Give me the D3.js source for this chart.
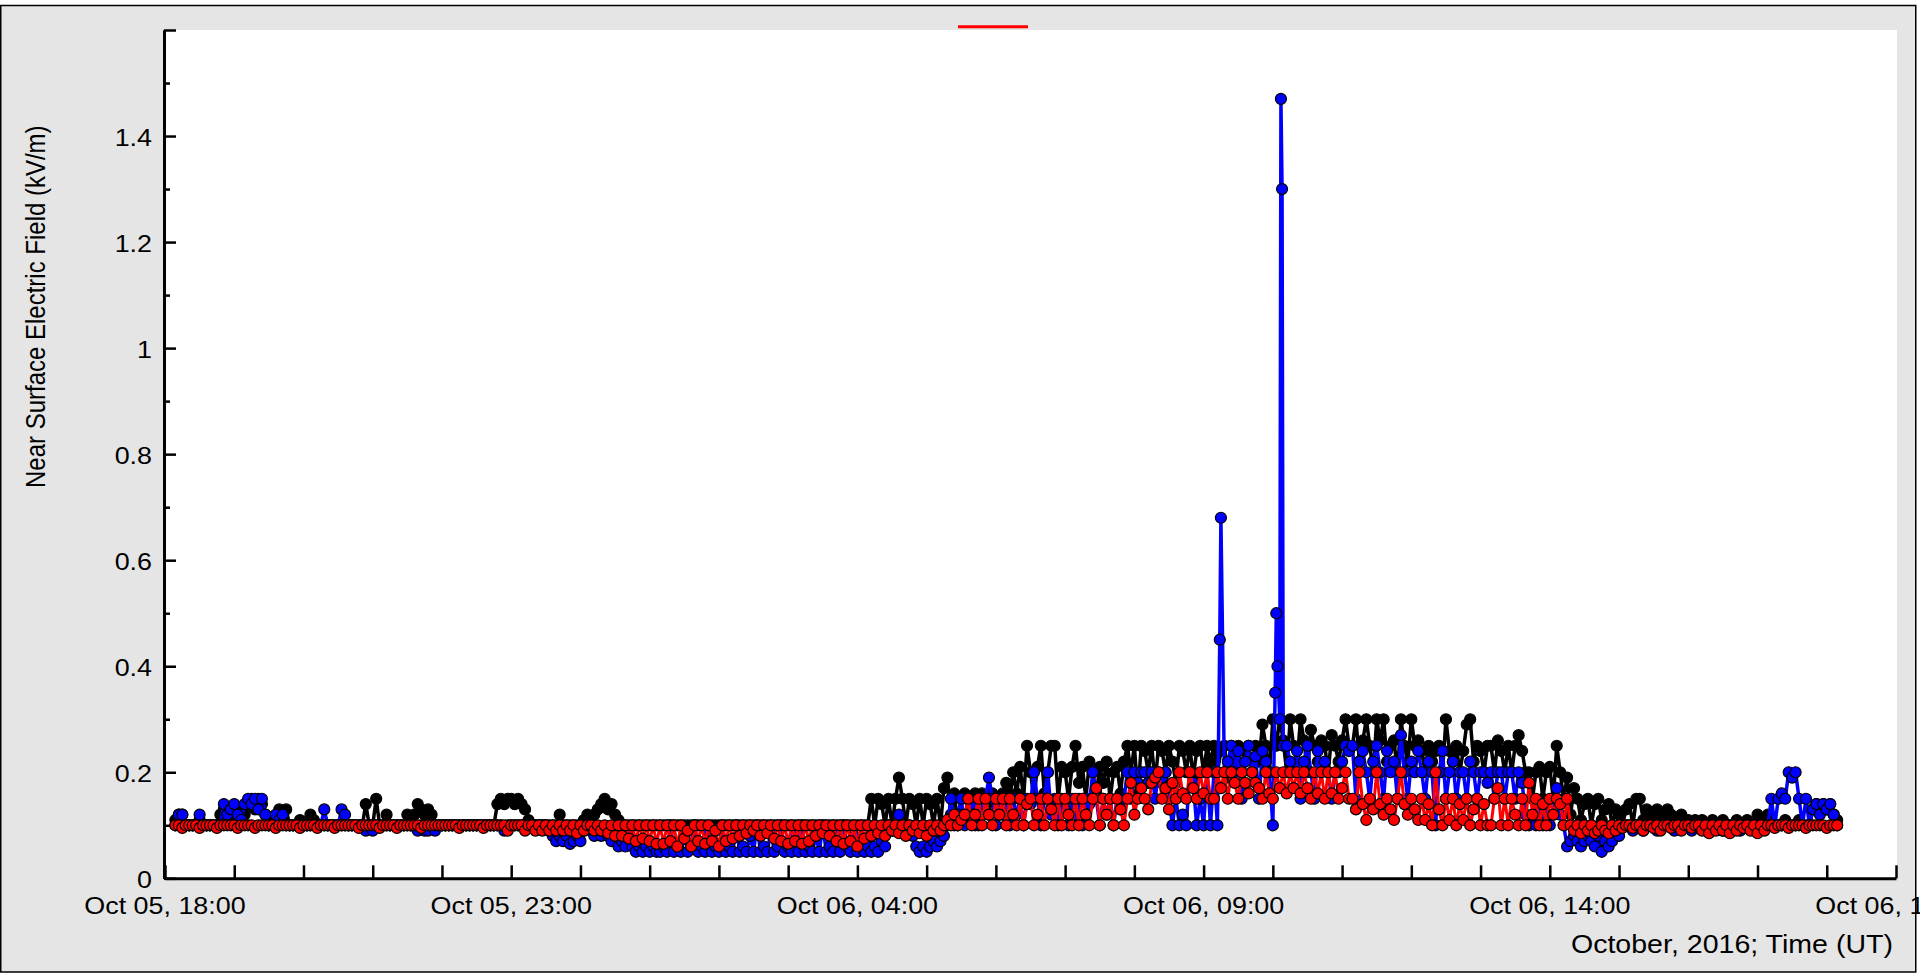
<!DOCTYPE html>
<html>
<head>
<meta charset="utf-8">
<script src="https://cdn.jsdelivr.net/npm/d3@7"></script>
<style>
  html, body { margin: 0; padding: 0; background: #fff; }
  svg { display: block; font-family: "Liberation Sans", Arial, sans-serif; }
</style>
</head>
<body>
<div id="chart"></div>
<script>
// samples every 3 minutes from 18:09 UT Oct 05 (one row = one hour, HH:09 .. HH+1:06)
const startTime = "2016-10-05T18:09:00Z";
const stepMinutes = 3;

const blackField = [
	.11,.12,.12,.10,.10,.10,.10,.11,.10,.10,.10,.10,.10,.12,.13,.12,.13,.12,.13,.11, // 18
	.12,.14,.15,.13,.15,.14,.12,.10,.10,.11,.13,.12,.13,.10,.10,.10,.11,.10,.10,.12, // 19
	.11,.10,.10,.10,.10,.10,.10,.10,.10,.10,.10,.10,.10,.10,.10,.14,.10,.10,.15,.10, // 20
	.10,.12,.10,.10,.10,.10,.10,.12,.10,.12,.14,.13,.12,.13,.12,.10,.10,.10,.10,.10, // 21
	.10,.10,.10,.10,.10,.10,.10,.10,.10,.10,.10,.10,.10,.14,.15,.14,.15,.15,.14,.15, // 22
	.14,.13,.11,.10,.10,.10,.10,.10,.10,.10,.10,.12,.10,.10,.10,.10,.10,.10,.11,.12, // 23
	.11,.12,.13,.14,.15,.13,.14,.12,.11,.10,.10,.10,.10,.10,.10,.10,.10,.10,.10,.10, // 00
	.10,.10,.10,.10,.10,.10,.10,.10,.10,.10,.10,.10,.10,.10,.10,.10,.10,.10,.10,.10, // 01
	.10,.10,.10,.10,.10,.10,.10,.10,.10,.10,.10,.10,.10,.10,.10,.10,.10,.10,.10,.10, // 02
	.10,.10,.10,.10,.10,.10,.10,.10,.10,.10,.10,.10,.10,.10,.10,.10,.10,.10,.10,.10, // 03
	.10,.15,.10,.15,.14,.10,.15,.10,.15,.19,.15,.10,.15,.14,.10,.15,.10,.15,.14,.10, // 04
	.15,.10,.17,.19,.12,.16,.10,.15,.16,.12,.15,.16,.10,.16,.15,.12,.16,.15,.12,.16, // 05
	.18,.15,.20,.16,.21,.15,.25,.20,.15,.21,.25,.16,.20,.25,.25,.15,.21,.20,.15,.21, // 06
	.25,.18,.21,.15,.22,.20,.16,.21,.18,.22,.15,.20,.21,.16,.22,.25,.20,.25,.16,.25, // 07
	.24,.20,.25,.18,.25,.24,.20,.25,.22,.18,.25,.24,.20,.25,.19,.24,.25,.20,.25,.22, // 08
	.25,.20,.24,.25,.19,.25,.22,.25,.20,.24,.25,.20,.25,.22,.29,.25,.20,.30,.25,.30, // 09
	.26,.20,.30,.25,.22,.30,.26,.20,.28,.25,.22,.26,.25,.20,.27,.25,.22,.26,.30,.25, // 10
	.25,.30,.22,.26,.30,.25,.20,.30,.26,.30,.22,.25,.26,.20,.30,.25,.22,.30,.25,.26, // 11
	.24,.20,.25,.22,.24,.25,.20,.30,.24,.22,.25,.20,.24,.29,.30,.22,.25,.24,.20,.25, // 12
	.25,.20,.26,.24,.20,.25,.20,.25,.27,.24,.20,.20,.15,.20,.21,.15,.20,.21,.15,.25, // 13
	.20,.15,.19,.12,.17,.15,.11,.14,.15,.10,.14,.15,.11,.13,.14,.10,.13,.12,.10,.13, // 14
	.14,.10,.15,.15,.11,.13,.12,.10,.13,.12,.10,.13,.12,.10,.11,.12,.10,.11,.10,.11, // 15
	.10,.11,.10,.10,.11,.10,.10,.11,.10,.10,.10,.11,.10,.10,.11,.10,.10,.12,.11,.10, // 16
	.12,.11,.10,.10,.10,.11,.10,.10,.10,.11,.10,.10,.10,.13,.14,.13,.14,.13,.14,.12, // 17
	.11
];

const blueField = [
	.10,.12,.12,.10,.10,.10,.10,.12,.10,.10,.10,.10,.10,.10,.14,.12,.13,.14,.12,.11, // 18
	.14,.15,.14,.15,.13,.15,.12,.10,.10,.12,.11,.12,.10,.10,.10,.10,.10,.10,.10,.10, // 19
	.10,.10,.10,.13,.10,.10,.10,.10,.13,.12,.10,.10,.10,.10,.10,.09,.10,.09,.10,.10, // 20
	.10,.10,.10,.10,.10,.10,.10,.10,.10,.10,.09,.10,.09,.09,.10,.09,.10,.10,.10,.10, // 21
	.10,.10,.10,.10,.10,.10,.10,.10,.10,.10,.10,.10,.10,.10,.10,.09,.10,.10,.10,.10, // 22
	.10,.10,.10,.10,.10,.10,.10,.10,.09,.08,.07,.08,.07,.08,.065,.07,.08,.07,.09,.10, // 23
	.09,.08,.09,.08,.09,.08,.07,.08,.06,.07,.06,.08,.06,.05,.06,.05,.06,.05,.06,.05, // 00
	.05,.06,.05,.10,.05,.06,.05,.08,.05,.06,.10,.05,.06,.05,.09,.05,.06,.05,.10,.05, // 01
	.06,.05,.10,.05,.06,.05,.08,.05,.10,.05,.06,.05,.09,.05,.06,.10,.05,.06,.05,.08, // 02
	.05,.10,.05,.06,.05,.08,.05,.10,.05,.06,.05,.09,.05,.10,.06,.05,.08,.05,.06,.05, // 03
	.06,.05,.06,.05,.07,.06,.10,.09,.10,.12,.10,.09,.10,.08,.06,.05,.06,.05,.06,.07, // 04
	.06,.07,.08,.10,.15,.10,.12,.15,.10,.15,.14,.10,.15,.12,.15,.19,.15,.10,.15,.12, // 05
	.15,.10,.15,.12,.15,.10,.15,.14,.20,.15,.10,.15,.20,.12,.15,.10,.15,.13,.10,.15, // 06
	.12,.15,.10,.15,.14,.20,.15,.10,.15,.12,.15,.10,.15,.13,.15,.20,.15,.20,.18,.20, // 07
	.20,.18,.20,.15,.20,.19,.20,.15,.10,.15,.10,.12,.10,.20,.18,.10,.15,.10,.20,.10, // 08
	.20,.10,.68,.20,.22,.25,.20,.24,.15,.22,.25,.20,.23,.15,.24,.22,.20,.10,.50,.30, // 09
	.25,.25,.22,.20,.24,.15,.22,.25,.20,.15,.24,.20,.22,.20,.15,.20,.20,.22,.25,.24, // 10
	.25,.15,.22,.24,.20,.15,.22,.25,.20,.15,.24,.20,.22,.15,.27,.20,.15,.22,.20,.24, // 11
	.20,.15,.22,.20,.10,.20,.24,.15,.20,.22,.15,.20,.20,.15,.22,.20,.15,.20,.20,.18, // 12
	.20,.15,.20,.20,.15,.20,.20,.15,.20,.18,.12,.10,.12,.10,.13,.10,.12,.10,.12,.17, // 13
	.12,.10,.06,.07,.08,.07,.06,.07,.08,.07,.06,.08,.05,.07,.06,.07,.09,.08,.10,.10, // 14
	.10,.09,.10,.10,.09,.10,.10,.10,.09,.10,.10,.10,.10,.09,.10,.10,.10,.10,.09,.10, // 15
	.10,.10,.10,.09,.10,.10,.10,.09,.10,.10,.10,.10,.09,.10,.10,.10,.10,.10,.10,.10, // 16
	.10,.15,.10,.15,.16,.15,.20,.19,.20,.15,.10,.15,.10,.13,.14,.12,.14,.13,.14,.12, // 17
	.10
];

// extra blue samples inside the two bursts (09:15 and 10:05)
const blueBurst = [
	["2016-10-06T09:14:00Z", .45],
	["2016-10-06T10:02:00Z", .35],
	["2016-10-06T10:04:00Z", .40],
	["2016-10-06T10:07:00Z", 1.47],
	["2016-10-06T10:08:00Z", 1.30]
];

const redField = [
	.10,.10,.095,.10,.10,.10,.10,.095,.10,.10,.10,.10,.095,.10,.10,.10,.10,.10,.095,.10, // 18
	.10,.10,.10,.095,.10,.10,.10,.10,.10,.095,.10,.10,.10,.10,.10,.10,.095,.10,.10,.10, // 19
	.10,.095,.10,.10,.10,.10,.095,.10,.10,.10,.10,.10,.10,.095,.10,.10,.10,.10,.10,.095, // 20
	.10,.10,.10,.10,.095,.10,.10,.10,.10,.10,.10,.095,.10,.10,.10,.10,.10,.10,.10,.10, // 21
	.10,.10,.095,.10,.10,.10,.10,.10,.10,.095,.10,.10,.10,.10,.10,.10,.09,.10,.10,.10, // 22
	.10,.09,.10,.10,.09,.10,.09,.10,.09,.10,.09,.10,.09,.10,.09,.10,.085,.10,.09,.10, // 23
	.10,.09,.10,.09,.10,.085,.10,.08,.10,.08,.10,.075,.10,.07,.10,.075,.10,.07,.10,.065, // 00
	.10,.065,.10,.07,.10,.06,.10,.075,.09,.06,.10,.07,.10,.065,.10,.07,.09,.06,.10,.07, // 01
	.10,.075,.10,.08,.10,.085,.10,.09,.10,.08,.10,.085,.10,.075,.10,.07,.10,.065,.10,.07, // 02
	.10,.065,.10,.07,.10,.08,.10,.085,.10,.08,.10,.07,.10,.065,.10,.07,.10,.06,.10,.075, // 03
	.10,.08,.10,.085,.10,.08,.10,.09,.10,.085,.10,.08,.10,.09,.10,.085,.10,.08,.10,.09, // 04
	.10,.09,.10,.11,.10,.12,.10,.11,.12,.15,.10,.12,.15,.10,.15,.12,.10,.15,.12,.15, // 05
	.10,.15,.12,.10,.15,.10,.14,.15,.10,.12,.15,.10,.15,.13,.10,.15,.10,.15,.12,.10, // 06
	.15,.10,.15,.12,.10,.15,.17,.10,.15,.12,.15,.10,.15,.13,.10,.15,.18,.12,.15,.17, // 07
	.15,.13,.18,.19,.20,.15,.17,.13,.18,.15,.20,.16,.15,.20,.17,.15,.20,.16,.20,.15, // 08
	.15,.20,.17,.20,.15,.20,.18,.15,.20,.18,.16,.20,.18,.17,.15,.20,.16,.15,.20,.17, // 09
	.20,.16,.20,.17,.20,.16,.20,.17,.15,.20,.16,.20,.15,.20,.16,.20,.15,.17,.20,.15, // 10
	.15,.13,.20,.14,.11,.15,.13,.20,.14,.12,.15,.13,.11,.15,.20,.14,.12,.15,.13,.11, // 11
	.15,.11,.14,.10,.20,.13,.10,.15,.11,.15,.10,.14,.11,.15,.10,.13,.15,.10,.14,.10, // 12
	.10,.15,.17,.10,.15,.10,.15,.12,.10,.15,.10,.18,.12,.15,.10,.14,.10,.15,.12,.15, // 13
	.14,.10,.15,.10,.09,.10,.085,.10,.09,.10,.085,.09,.10,.09,.085,.10,.09,.10,.095,.10, // 14
	.10,.095,.10,.10,.09,.10,.10,.095,.10,.09,.10,.10,.095,.10,.10,.09,.10,.10,.095,.10, // 15
	.10,.09,.10,.085,.10,.09,.10,.09,.10,.085,.10,.09,.10,.095,.10,.09,.10,.085,.10,.09, // 16
	.10,.10,.095,.10,.10,.10,.095,.10,.10,.10,.10,.095,.10,.10,.10,.10,.10,.095,.10,.10, // 17
	.10
];

const yLabelTicks = [0, 0.2, 0.4, 0.6, 0.8, 1, 1.2, 1.4];
const xLabelTimes = [
	"2016-10-05T18:00:00Z", "2016-10-05T23:00:00Z", "2016-10-06T04:00:00Z",
	"2016-10-06T09:00:00Z", "2016-10-06T14:00:00Z", "2016-10-06T19:00:00Z"
];
const yTitle = "Near Surface Electric Field (kV/m)";
const xTitle = "October, 2016; Time (UT)";

var width = 1920,
	height = 973;
var fontSize = 24,
	textStretch = 1.12;

var x = d3
	.scaleUtc()
	.domain([new Date("2016-10-05T18:00:00Z"), new Date("2016-10-06T19:00:00Z")])
	.range([165, 1896]);
var y = d3.scaleLinear().domain([0, 1.6]).range([878.3, 30]);

var svg = d3
	.select("#chart")
	.append("svg")
	.attr("width", width)
	.attr("height", height)
	.style("font-size", fontSize + "px");

// grey figure frame and white axes box
svg.append("rect")
	.attr("x", 0.75).attr("y", 5.5)
	.attr("width", 1915).attr("height", 966.5)
	.attr("fill", "#e5e5e5")
	.attr("stroke", "#000")
	.attr("stroke-width", 1.5);
svg.append("rect")
	.attr("x", x.range()[0]).attr("y", y.range()[1])
	.attr("width", x.range()[1] - x.range()[0] + 1)
	.attr("height", y.range()[0] - y.range()[1])
	.attr("fill", "#fff");

// legend stub (red line, no text)
svg.append("line")
	.attr("x1", 958).attr("x2", 1028)
	.attr("y1", 26.7).attr("y2", 26.7)
	.attr("stroke", "#ff0000")
	.attr("stroke-width", 3);

function toPoints(values, extra) {
	var t0 = new Date(startTime).getTime();
	var pts = values.map((v, i) => ({ t: new Date(t0 + i * stepMinutes * 60000), v: v }));
	(extra || []).forEach((e) => pts.push({ t: new Date(e[0]), v: e[1] }));
	pts.sort((a, b) => a.t - b.t);
	return pts;
}

var series = [
	{ name: "black", points: toPoints(blackField), line: "#000", fill: "#000", width: 3.5 },
	{ name: "blue", points: toPoints(blueField, blueBurst), line: "#0000ff", fill: "#0000ff", width: 3.5 },
	{ name: "red", points: toPoints(redField), line: "#ff0000", fill: "#ff0000", width: 3 }
];

svg.append("clipPath")
	.attr("id", "plotClip")
	.append("rect")
	.attr("x", 165).attr("y", 28)
	.attr("width", 1733).attr("height", 852);

var plot = svg.append("g").attr("clip-path", "url(#plotClip)");

var line = d3
	.line()
	.x((d) => x(d.t))
	.y((d) => y(d.v));

series.forEach(function (s) {
	var g = plot.append("g").attr("class", "series-" + s.name);
	g.append("path")
		.datum(s.points)
		.attr("d", line)
		.attr("fill", "none")
		.attr("stroke", s.line)
		.attr("stroke-width", s.width)
		.attr("stroke-linejoin", "round");
	g.selectAll("circle")
		.data(s.points)
		.join("circle")
		.attr("cx", (d) => x(d.t))
		.attr("cy", (d) => y(d.v))
		.attr("r", 5.5)
		.attr("fill", s.fill)
		.attr("stroke", "#000")
		.attr("stroke-width", 1.2);
});

// axes: ticks point inward
var yMajor = d3.axisLeft(y).tickValues(d3.range(0, 1.61, 0.2)).tickSizeInner(-12).tickSizeOuter(0).tickFormat("");
var yMinor = d3.axisLeft(y).tickValues(d3.range(0.1, 1.6, 0.2)).tickSizeInner(-6).tickSizeOuter(0).tickFormat("");
var xAxis = d3.axisBottom(x).ticks(d3.utcHour.every(1)).tickSizeInner(-13).tickSizeOuter(0).tickFormat("");

[svg.append("g").attr("transform", "translate(164,0)").call(yMajor),
 svg.append("g").attr("transform", "translate(164,0)").call(yMinor),
 svg.append("g").attr("transform", "translate(0,878.3)").call(xAxis)
].forEach(function (g) {
	g.select(".domain").attr("stroke", "#000").attr("stroke-width", 3);
	g.selectAll(".tick line").attr("stroke", "#000").attr("stroke-width", 2.5);
});

function addText(px, py, str, anchor, rot, size) {
	return svg.append("text")
		.attr("transform", `translate(${px},${py}) scale(${textStretch},1)` + (rot ? ` rotate(${rot})` : ""))
		.attr("text-anchor", anchor)
		.attr("fill", "#000")
		.style("font-size", (size || fontSize) + "px")
		.text(str);
}

var yFormat = d3.format("~g");
yLabelTicks.forEach((v) => addText(152, y(v) + 10, yFormat(v), "end"));

var xFormat = d3.utcFormat("%b %d, %H:%M");
xLabelTimes.forEach((s) => {
	var d = new Date(s);
	addText(x(d), 914, xFormat(d), "middle");
});

addText(45, 488, yTitle, "start", -90);
addText(1893, 953, xTitle, "end", 0, 25.5);
</script>
</body>
</html>
